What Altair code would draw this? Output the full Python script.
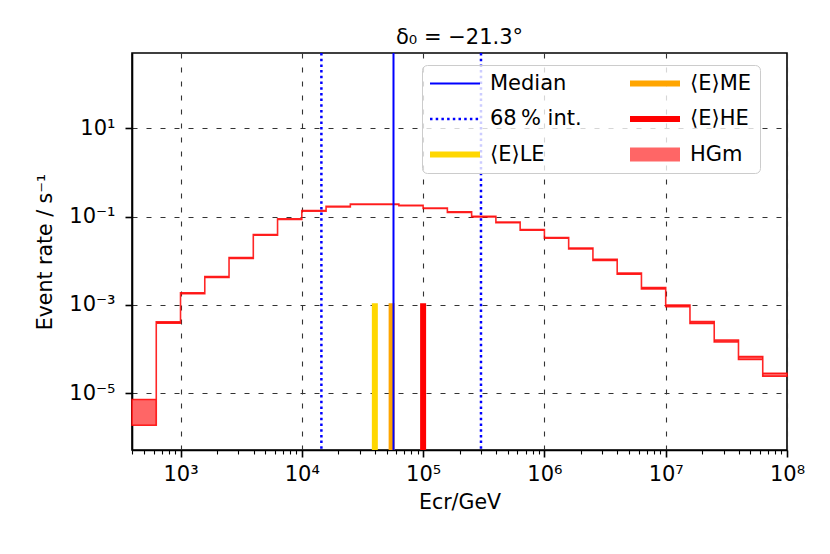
import altair as alt
import pandas as pd

# ---------------- data ----------------
EDGE_EXP = [2.6, 2.8, 3.0, 3.2, 3.4, 3.6, 3.8, 4.0, 4.2, 4.4, 4.6, 4.8, 5.0, 5.2,
            5.4, 5.6, 5.8, 6.0, 6.2, 6.4, 6.6, 6.8, 7.0, 7.2, 7.4, 7.6, 7.8, 8.0]
LOW = [1.9e-6, 3.85e-4, 1.79e-3, 4.2e-3, 1.13e-2, 3.77e-2, 8.65e-2, 0.133, 0.166,
       0.188, 0.188, 0.176, 0.152, 0.124, 0.098, 0.0725, 0.049, 0.0323, 0.0186,
       0.0102, 0.00495, 0.00232, 9.2e-4, 3.8e-4, 1.45e-4, 5.85e-5, 2.45e-5]
HIGH = [7.3e-6, 4.15e-4, 1.89e-3, 4.4e-3, 1.19e-2, 3.93e-2, 8.95e-2, 0.137, 0.170,
        0.192, 0.192, 0.180, 0.156, 0.128, 0.102, 0.0755, 0.051, 0.0337, 0.0194,
        0.0108, 0.00525, 0.00248, 1.0e-3, 4.2e-4, 1.62e-4, 6.8e-5, 2.85e-5]

MEDIAN = 5.7e4
INT68 = [1.45e4, 3.0e5]
MEAN_E = [4.0e4, 5.5e4, 1.0e5]          # LE, ME, HE
MEAN_TOP = 1.1e-3

S_MED = "Median"
S_68 = "68\u2009% int."
S_LE = "⟨E⟩LE"
S_ME = "⟨E⟩ME"
S_HE = "⟨E⟩HE"
S_HG = "HGm"

# legend fills column by column
LEG_ORDER = [S_MED, S_68, S_LE, S_ME, S_HE, S_HG]
LEG_COLORS = ["#0000ff", "#0000ff", "#ffd700", "#ffa500", "#ff0000", "#ff6666"]
LEG_DASH = [[1, 0], [2.5, 3.2], [1, 0], [1, 0], [1, 0], [1, 0]]
LEG_WIDTH = [2, 2.5, 6, 6, 6, 14]

TITLE = "δ₀ = −21.3°"
XTITLE = "Ecr/GeV"
YTITLE = "Event rate / s⁻¹"

XDOM = [10 ** 2.6, 1e8]
YDOM = [10 ** -6.28, 10 ** 2.70]
YTICKS = [10.0, 0.1, 1e-3, 1e-5]
XMAJOR = [1e3, 1e4, 1e5, 1e6, 1e7, 1e8]
XMINOR = [m * 10 ** d for d in range(2, 8) for m in range(2, 10) if m * 10 ** d > XDOM[0]]
XTICKS = sorted(XMAJOR + XMINOR)

# ---------------- tables ----------------
edges = [10 ** e for e in EDGE_EXP]
band = pd.DataFrame({"E": edges, "lo": LOW + [LOW[-1]], "hi": HIGH + [HIGH[-1]], "series": S_HG})
med_df = pd.DataFrame({"E": [MEDIAN], "series": [S_MED]})
int_df = pd.DataFrame({"E": INT68, "series": [S_68, S_68]})
mean_df = pd.DataFrame({"E": MEAN_E, "top": [MEAN_TOP] * 3, "series": [S_LE, S_ME, S_HE]})

# ---------------- expressions ----------------
SUP = {'-': '⁻', '0': '⁰', '1': '¹', '2': '²', '3': '³', '4': '⁴', '5': '⁵',
       '6': '⁶', '7': '⁷', '8': '⁸', '9': '⁹'}
EXPO = "round(log(datum.value)/LN10)"
sup = "('' + " + EXPO + ")"
for k, v in SUP.items():
    sup = f"replace({sup}, '{k}', '{v}')"
DEC = f"abs(log(datum.value)/LN10 - {EXPO}) < 0.001"
XLABEL = f"({DEC}) ? '10' + {sup} : ''"
YLABEL = f"'10' + {sup}"


def cond(a, b):
    return {"condition": {"test": DEC, "value": a}, "value": b}


xaxis = alt.Axis(values=XTICKS, labelExpr=XLABEL,
                 tickSize=cond(7, 4), tickWidth=cond(1.6, 1.1),
                 grid=True, gridOpacity=cond(1, 0), gridDash=[5, 9],
                 gridColor="#333333", gridWidth=1.1,
                 title=XTITLE, titleX=327.5, titleY=58, titleBaseline="alphabetic",
                 titleFontSize=20.5, titleFontWeight="normal", titleColor="black",
                 labelFontSize=21, labelPadding=6, labelColor="black",
                 labelOverlap=False, labelFlush=False,
                 domainColor="black", domainWidth=1.6, tickColor="black")
yaxis = alt.Axis(values=YTICKS, labelExpr=YLABEL, tickSize=7, tickWidth=1.6,
                 grid=True, gridDash=[5, 9], gridColor="#333333", gridWidth=1.1,
                 title=YTITLE, titleX=-81, titleY=198.5, titleBaseline="alphabetic",
                 titleAngle=270, titleFontSize=20.5, titleFontWeight="normal",
                 titleColor="black", labelFontSize=21, labelPadding=10,
                 labelColor="black", labelOverlap=False, labelFlush=False,
                 domainColor="black", domainWidth=1.6, tickColor="black")

xs = alt.Scale(type="log", domain=XDOM, nice=False)
ys = alt.Scale(type="log", domain=YDOM, nice=False)
cs = alt.Scale(domain=LEG_ORDER, range=LEG_COLORS)
ds = alt.Scale(domain=LEG_ORDER, range=LEG_DASH)
ws = alt.Scale(type="ordinal", domain=LEG_ORDER, range=LEG_WIDTH)

leg = alt.Legend(title=None, orient="none", legendX=290, legendY=12, columns=2,
                 direction="vertical", columnPadding=48, rowPadding=13.5, padding=8,
                 clipHeight=21, symbolOffset=-7,
                 fillColor="rgba(255,255,255,0.8)", strokeColor="#cccccc",
                 cornerRadius=5, labelFontSize=21, labelFont="DejaVu Sans",
                 labelColor="black", labelOffset=3, labelLimit=300,
                 symbolSize=2500, symbolType="stroke")

color = alt.Color("series:N", scale=cs, legend=leg)
dash = alt.StrokeDash("series:N", scale=ds, legend=leg)
width = alt.StrokeWidth("series:O", scale=ws, legend=leg)

area = alt.Chart(band).mark_area(
    interpolate="step-after", fillOpacity=1, stroke="#ff0000",
    strokeWidth=1.6, strokeOpacity=0.85
).encode(
    x=alt.X("E:Q", scale=xs, axis=xaxis),
    y=alt.Y("lo:Q", scale=ys, axis=yaxis),
    y2="hi:Q",
    color=color,
)
bars = alt.Chart(mean_df).mark_rule(strokeCap="butt").encode(
    x=alt.X("E:Q", scale=xs, axis=xaxis),
    y=alt.Y("top:Q", scale=ys, axis=yaxis),
    y2=alt.datum(YDOM[0]),
    color=color, strokeDash=dash, strokeWidth=width,
)
med = alt.Chart(med_df).mark_rule(strokeCap="butt").encode(
    x=alt.X("E:Q", scale=xs, axis=xaxis),
    color=color, strokeDash=dash, strokeWidth=width,
)
dots = alt.Chart(int_df).mark_rule(strokeCap="butt").encode(
    x=alt.X("E:Q", scale=xs, axis=xaxis),
    color=color, strokeDash=dash, strokeWidth=width,
)

chart = alt.layer(area, bars, med, dots).properties(
    width=655, height=397,
    title=alt.TitleParams(text=TITLE, fontSize=21, font="DejaVu Sans",
                          fontWeight="normal", baseline="alphabetic",
                          offset=10, dy=23, anchor="middle", color="black"),
    padding={"left": 124, "top": 45, "right": 35, "bottom": 96},
    autosize=alt.AutoSizeParams(type="none"),
).configure(font="DejaVu Sans").configure_view(stroke="black", strokeWidth=1.6)

chart.save("out.html", embed_options={"renderer": "svg", "actions": False})
